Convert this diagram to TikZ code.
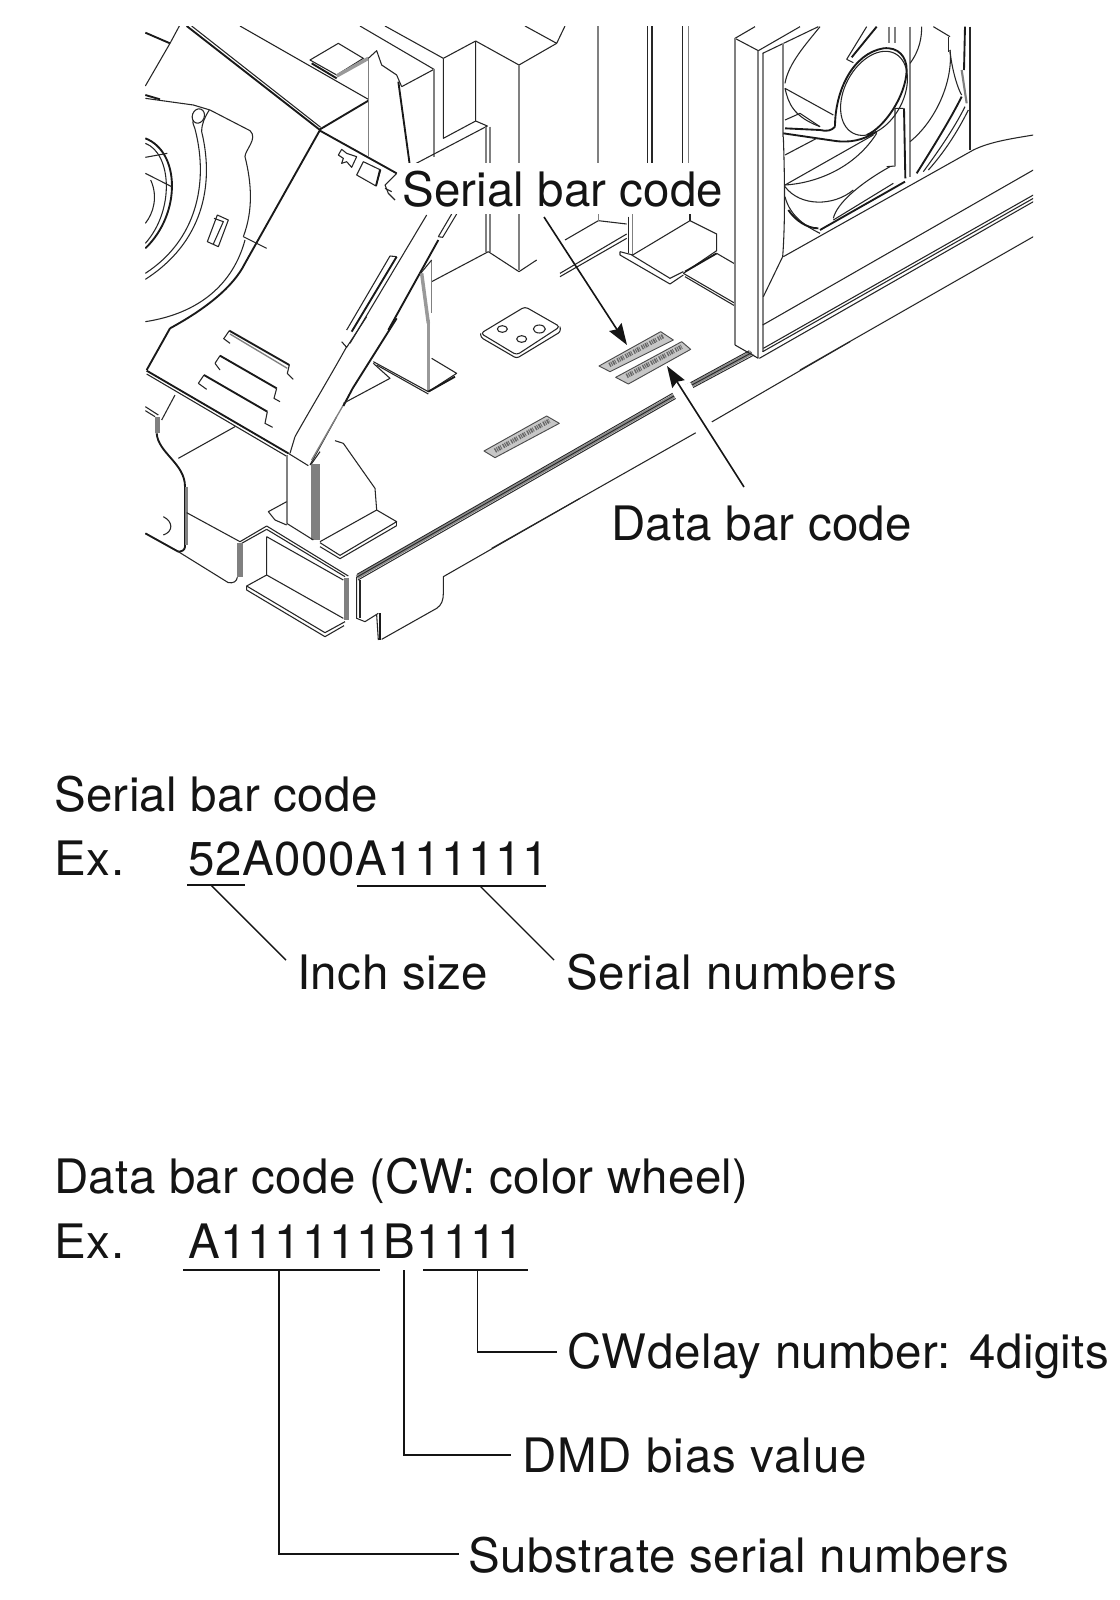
\documentclass[tikz,border=0pt]{standalone}
\usepackage{fontspec}
\setmainfont{TeX Gyre Heros}
\usetikzlibrary{arrows.meta}
\definecolor{ink}{gray}{0.08}
\definecolor{edge}{gray}{0.5}
\newcommand{\spaced}[1]{\addfontfeature{LetterSpace=#1}}
\tikzset{
 lbl/.style={anchor=base west,inner sep=0pt,text=ink,font=\fontsize{35.6}{40}\selectfont},
 ld/.style={draw=ink,line width=1.05pt},
 ul/.style={draw=ink,line width=1.4pt},
 arr/.style={draw=ink,line width=1.2pt,-{Stealth[length=16pt,width=11pt,inset=2pt]}},
 ln/.style={draw=black!85,line width=0.8pt,line join=round},
 tk/.style={draw=black!90,line width=1.4pt,line join=round},
 gy/.style={draw=edge,line width=1pt},
 wd/.style={draw=edge!80,line width=2.6pt},
 code/.style={draw=black!70,fill=black!22,line width=0.7pt,line join=round},
 bars/.style={draw=black!60,line width=3.4pt,dash pattern=on 1pt off .7pt on .7pt off .7pt on 1.2pt off .6pt on .6pt off 1.4pt},
 zs/.style={x=0.25pt,y=-0.25pt},
}
\begin{document}
\begin{tikzpicture}[x=0.75pt,y=-0.75pt]
\useasboundingbox (0,0) rectangle (1120,1600);
\fill[white] (0,0) rectangle (1120,1600);
\begin{scope}
\clip (145,26) rectangle (1033,640);
% --- zoom 1 region
\begin{scope}[shift={(130,10)},zs]
\draw[tk] (46,68)--(120,100);
\draw[ln] (148,48)--(120,100)--(46,228);
\draw[tk] (170,48)--(570,360);
\draw[ln] (185,48)--(572,352);
\draw[tk] (570,362)--(800,490);
\draw[ln] (330,48)--(715,268);
\draw[tk] (715,272)--(570,358);
\draw[tk] (570,360)--(345,760) .. controls (310,830) and (230,895) .. (120,955);
\draw[ln] (340,680)--(410,715);
\draw[ln] (540,150)--(625,100)--(700,145)--(620,195)--cycle;
\draw[tk] (545,160)--(620,205);
\draw[wd] (620,198)--(715,145);
\draw[gy] (715,145)--(715,440);
\draw[ln] (715,145)--(740,122)--(755,165)--(800,195)--(815,230);
\draw[tk] (805,215)--(840,470);
\draw[ln] (690,48)--(912,178)--(815,230);
\draw[ln] (765,48)--(940,145);
\draw[gy] (912,178)--(912,440);
\draw[ln] (1185,48)--(1280,100)--(1305,48);
\draw[ln] (940,145)--(1037,93)--(1167,165)--(1280,100);
\draw[ln] (940,145)--(940,385)--(1037,333)--(1037,93);
\draw[ln] (855,462)--(1072,348)--(1037,333);
\draw[gy] (1068,350)--(1068,725);
\draw[gy] (1080,350)--(1080,725);
\draw[gy] (1167,165)--(1167,780);
\draw[ln] (1075,725)--(1167,785)--(1220,750);
\draw[ln] (1075,725)--(905,815);
\draw[gy] (905,750)--(905,910);
% blower
\draw[tk] (46,255)--(90,268);
\draw[ln] (46,265)--(190,285)--(240,300)--(360,362) .. controls (385,385) and (345,420) .. (345,440) .. controls (365,520) and (370,600) .. (340,680);
\draw[ln,rotate around={-20:(205,318)}] (205,318) ellipse (18 and 22);
\draw[ln] (190,330) .. controls (185,340) and (195,350) .. (197,365) .. controls (235,520) and (200,690) .. (46,790);
\draw[ln] (238,300) .. controls (225,320) and (215,340) .. (215,365) .. controls (255,530) and (215,700) .. (46,808);
\draw[ln] (345,690) .. controls (310,820) and (210,910) .. (46,935);
\draw[tk] (46,385) .. controls (150,425) and (155,610) .. (46,715);
\draw[ln] (46,400) .. controls (125,430) and (135,600) .. (46,700);
\draw[ln] (46,442)--(112,430);
\draw[ln] (46,490)--(125,530);
\draw[ln] (62,510) .. controls (85,560) and (70,610) .. (46,640);
\draw[ln] (262,615)--(295,630)--(265,710)--(232,695)--cycle;
\draw[ln] (252,625)--(280,635)--(250,702);
% sticker-like details
\draw[ln] (635,418)--(625,435)--(640,445)--(635,460)--(650,455)--(665,472)--(680,440)--(650,430)--cycle;
\draw[ln] (700,455)--(752,480)--(738,528)--(680,495)--cycle;
\draw[tk] (750,480)--(738,528);
\draw[ln] (800,490)--(765,525)--(775,550)--(795,570);
\draw[ln] (765,535)--(785,545);
% below the label
\draw[ln] (890,615)--(660,1000);
\draw[ln] (965,612)--(925,680);
\draw[ln] (980,612)--(938,682)--(925,680);
\draw[ln] (800,740)--(780,738)--(650,960);
\draw[tk] (800,740)--(665,965);
\draw[tk] (925,690)--(775,960);
\draw[wd] (875,790)--(895,940);
\draw[ln] (905,750)--(872,790);
\end{scope}
% --- zoom 3 region
\begin{scope}[shift={(130,320)},zs]
\draw[tk] (120,25)--(50,150);
\draw[tk] (50,152)--(475,400);
\draw[ln] (50,162)--(472,410);
\draw[ln] (495,350)--(480,400);
\draw[ln] (495,350) .. controls (540,270) and (600,170) .. (650,80);
\draw[ln] (635,65)--(650,82)--(710,-10);
\draw[ln] (475,400)--(535,437);
\draw[ln] (540,435)--(620,290);
\draw[gy] (545,420)--(640,255);
\draw[tk] (640,258)--(668,205)--(800,-5);
\draw[ln] (640,250)--(780,175)--(730,130);
% slots
\draw[ln] (280,55)--(300,70); \draw[ln] (282,55)--(298,32);
\draw[tk] (298,32)--(478,135); \draw[gy] (300,42)--(472,145);
\draw[ln] (478,135)--(472,160)--(490,178);
\draw[ln] (255,130)--(270,150); \draw[ln] (255,130)--(270,107);
\draw[tk] (270,107)--(440,205);
\draw[ln] (440,205)--(432,235)--(450,245);
\draw[ln] (205,190)--(230,208); \draw[ln] (205,190)--(222,165);
\draw[tk] (222,165)--(412,275);
\draw[ln] (412,275)--(405,310)--(428,322);
% column
\draw[gy,line width=1.6pt] (470,405)--(470,610);
\fill[black!50] (544,432) rectangle (570,660);
\draw[ln] (470,610)--(550,660);
\draw[ln] (470,545)--(415,575)--(435,600)--(470,615);
\draw[ln] (570,395)--(544,432);
% right gusset
\draw[ln] (615,362)--(640,370)--(735,505)--(740,570)--(570,665);
\draw[ln] (740,570)--(800,605)--(630,706)--(570,668);
\draw[ln] (570,680)--(630,716)--(800,617);
\draw[ln] (800,605)--(800,617);
% left blocks
\draw[ln] (135,225)--(95,300);
\draw[ln] (46,260)--(85,285);
\draw[ln] (46,272)--(75,290);
\fill[black!50] (74,290) rectangle (90,340);
\draw[tk] (80,340) .. controls (85,400) and (165,430) .. (165,500)--(165,680) .. controls (165,690) and (155,695) .. (145,695);
\draw[gy,line width=2.6pt] (170,500)--(170,675);
\draw[ln] (145,415)--(315,320);
\draw[ln] (170,578)--(330,665)--(410,618);
\draw[ln] (335,670)--(410,628);
\fill[black!50] (322,670) rectangle (338,772);
\draw[ln] (322,772) .. controls (320,785) and (310,790) .. (295,788)--(145,695);
\draw[tk] (46,640)--(145,695);
\draw[ln] (100,590) .. controls (130,605) and (130,635) .. (100,645);
% front box
\draw[ln] (410,618)--(655,768);
\draw[ln] (410,628)--(645,770);
\draw[ln] (410,650)--(640,780);
\draw[ln] (410,650)--(410,765)--(640,895);
\fill[black!50] (642,775) rectangle (658,900);
\draw[ln] (410,765)--(350,798)--(585,938)--(645,905);
\draw[ln] (350,798)--(350,810)--(585,950)--(642,917);
% front right panel
\draw[ln] (690,780)--(690,895);
\draw[ln] (680,770)--(680,895)--(705,905)--(745,880);
\draw[tk] (750,880)--(750,960);
\draw[ln] (740,885)--(745,960);
\draw[ln] (755,958)--(920,865) .. controls (935,855) and (940,840) .. (940,820)--(940,770)--(1350,535);
% small column foot
\draw[wd] (895,0)--(895,215);
\draw[ln] (730,125)--(895,215)--(980,160)--(905,115);
\draw[tk] (895,215)--(975,170);
\draw[ln] (740,135)--(895,222);
\end{scope}
% --- zoom 4 region
\begin{scope}[shift={(450,290)},zs]
\draw[ln,rounded corners=2.5pt] (92,130)--(225,50)--(330,110)--(200,195)--cycle;
\draw[ln,rounded corners=2pt] (92,130)--(92,142)--(200,205)--(332,125)--(330,110);
\draw[ln] (157,117) ellipse (15 and 10);
\draw[ln] (215,147) ellipse (15 and 10);
\draw[ln] (268,117) ellipse (18 and 12);
\draw[code] (447,228)--(632,125)--(670,150)--(480,245)--cycle;
\draw[code] (497,262)--(695,155)--(722,178)--(535,282)--cycle;
\draw[code] (102,483)--(290,378)--(328,400)--(135,503)--cycle;
\draw[bars] (478,225)--(640,138);
\draw[bars] (530,258)--(695,170);
\draw[bars] (135,482)--(298,392);
% rail
\draw[draw=black!45,line width=3.2pt] (-279,861)--(684,311);
\draw[ln,line width=.7pt] (-279,853)--(678,304);
\draw[ln,line width=.7pt] (-279,861)--(684,311);
\draw[ln,line width=.7pt] (-276,870)--(690,318);
\draw[draw=black!45,line width=3.2pt] (707,295)--(905,188);
\draw[ln,line width=.7pt] (705,287)--(898,182);
\draw[ln,line width=.7pt] (707,295)--(905,188);
\draw[ln,line width=.7pt] (710,303)--(912,195);
\draw[ln] (752,420)--(125,775);
\draw[ln] (778,400)--(1200,155);
\end{scope}
% --- zoom 2 region
\begin{scope}[shift={(560,10)},zs]
\draw[gy,line width=1.6pt] (115,48)--(115,460);
\draw[ln] (262,48)--(262,460); \draw[ln] (276,48)--(276,460);
\draw[ln] (368,48)--(368,460); \draw[gy] (386,48)--(386,460);
\draw[ln] (15,690)--(115,632)--(200,642);
\draw[gy] (115,612)--(115,632);
\draw[ln] (0,790)--(200,672);
\draw[ln] (0,800)--(200,685);
\draw[ln] (205,620)--(205,730);
\draw[gy] (218,612)--(218,735);
\draw[ln] (180,725)--(218,735)--(390,632)--(470,672)--(470,722)--(370,790);
\draw[tk] (375,785)--(470,730);
\draw[ln] (390,632)--(390,612);
\draw[ln] (180,725)--(180,735)--(330,822)--(370,795);
\draw[ln] (215,735)--(330,805)--(370,785);
\draw[ln] (470,730)--(525,762);
\draw[ln] (370,790)--(525,880);
\draw[ln] (375,800)--(525,888);
% big column
\draw[ln] (525,85)--(595,122);
\draw[ln] (525,85)--(585,50);
\draw[gy,line width=1.6pt] (525,85)--(525,1005);
\draw[gy,line width=1.6pt] (595,122)--(595,1045);
\draw[gy,line width=1.6pt] (608,130)--(608,1025);
\draw[ln] (525,1005)--(595,1045);
\draw[ln] (595,122)--(720,50);
\draw[ln] (608,130)--(775,50);
\draw[gy,line width=1.6pt] (670,100)--(670,380);
\draw[ln] (670,380) .. controls (675,520) and (675,650) .. (668,740)--(610,860);
\draw[ln] (608,945)--(1420,480);
\draw[ln] (610,1015)--(1420,555);
\draw[ln] (598,1045)--(1420,575);
\draw[ln] (608,1025)--(1420,565);
\draw[ln] (720,1080)--(1420,680);
\draw[ln] (670,740)--(1240,420) .. controls (1290,395) and (1360,385) .. (1420,375);
\end{scope}
% --- zoom 7 region, fan
\begin{scope}[shift={(720,20)},zs]
\draw[ln,rotate around={-28:(462,220)}] (462,220) ellipse (88 and 135);
\draw[tk] (345,320) .. controls (345,210) and (400,100) .. (490,85) .. controls (535,80) and (560,110) .. (560,150);
\draw[tk] (560,150) .. controls (558,230) and (490,325) .. (440,345);
\draw[tk] (395,112) -- (470,20);
\draw[ln] (380,118)--(440,20); \draw[ln] (380,118)--(400,128);
\draw[tk] (345,320) .. controls (335,332) and (320,335) .. (300,330)--(195,325);
\draw[tk] (190,340)--(340,362) .. controls (390,370) and (430,360) .. (470,335);
\draw[ln] (195,205)--(340,285);
\draw[ln] (195,205) .. controls (205,250) and (220,290) .. (300,320);
\draw[ln] (195,300)--(240,280)--(300,320);
\draw[ln] (195,190) .. controls (205,130) and (260,70) .. (300,20);
\draw[ln] (195,405)--(290,355);
\draw[ln] (195,495)--(460,345);
\draw[ln] (195,495) .. controls (280,490) and (400,450) .. (470,340);
\draw[ln] (195,500) .. controls (240,560) and (340,560) .. (400,510);
\draw[ln] (340,595) .. controls (350,550) and (420,490) .. (510,440);
\draw[ln] (195,530) .. controls (210,590) and (260,620) .. (300,640);
\draw[tk] (205,570) .. controls (225,600) and (260,625) .. (295,625);
\draw[tk] (300,630)--(555,485);
\draw[ln] (340,600)--(520,490);
\draw[ln] (500,440)--(525,438)--(525,265)--(550,265);
\draw[tk] (552,265)--(556,475);
\draw[gy,line width=1.6pt] (525,290)--(525,438);
\draw[gy,line width=1.6pt] (570,20)--(570,470);
\draw[ln] (570,365) .. controls (650,300) and (700,180) .. (690,90);
\draw[ln] (570,130) .. controls (600,90) and (605,50) .. (605,20);
\draw[ln] (640,20)--(690,50);
\draw[ln] (690,90) .. controls (695,150) and (715,210) .. (725,225);
\draw[ln] (685,50)--(685,95);
\draw[tk] (735,20)--(732,150);
\draw[gy,line width=1.6pt] (725,150)--(740,250);
\draw[ln] (750,20)--(750,390);
\draw[tk] (725,230) .. controls (690,300) and (640,380) .. (590,460);
\draw[ln] (735,260) .. controls (700,330) and (650,400) .. (610,455);
\draw[ln] (745,270) .. controls (710,340) and (670,400) .. (625,450);
\draw[gy,line width=1.6pt] (525,20)--(525,70);
\draw[gy,line width=1.6pt] (508,20)--(508,70);
\end{scope}
\end{scope}
% white masks behind the top labels
\fill[white] (400,163) rectangle (726,214);
\fill[white] (672,392) -- (690,382) -- (716,430) -- (700,440) -- cycle;
% --- labels
\node[lbl] (serialtop) at (402,206) {\spaced{.3}Serial bar code};
\node[lbl] (datatop) at (611,540) {\spaced{.5}Data bar code};
\coordinate (serialfrom) at (544,217);
\coordinate (serialto) at (627,345);
\coordinate (datafrom) at (744,487);
\coordinate (datato) at (667,366);
\draw[arr] (serialfrom) -- (serialto);
\draw[arr] (datafrom) -- (datato);
% serial section
\node[lbl] (serialhead) at (54,811) {\spaced{.7}Serial bar code};
\node[lbl] (serialex) at (54,875) {\spaced{1.5}Ex.};
\node[lbl] (serialcode) at (188,875) {\spaced{1.3}52A000A111111};
\node[lbl] (inch) at (297,989) {\spaced{1}Inch size};
\node[lbl] (serialnum) at (566,989) {\spaced{2}Serial numbers};
\coordinate (u1a) at (187,885); \coordinate (u1b) at (245,885);
\coordinate (u2a) at (357,886); \coordinate (u2b) at (546,886);
\coordinate (u1m) at (211,885); \coordinate (u2m) at (480,886);
\coordinate (inchend) at (286,960); \coordinate (numend) at (554,960);
\draw[ul] (u1a) -- (u1b);
\draw[ul] (u2a) -- (u2b);
\draw[ld] (u1m) -- (inchend);
\draw[ld] (u2m) -- (numend);
% data section
\node[lbl] (datahead) at (54,1193) {\spaced{.7}Data bar code (CW: color wheel)};
\node[lbl] (dataex) at (54,1258) {\spaced{1.5}Ex.};
\node[lbl] (datacode) at (188,1258) {\spaced{1.6}A111111B1111};
\node[lbl] (cwdelay) at (567,1368) {\spaced{1}CWdelay number: 4digits};
\node[lbl] (dmd) at (522,1472) {\spaced{2}DMD bias value};
\node[lbl] (subst) at (468,1572) {\spaced{1.4}Substrate serial numbers};
\coordinate (u3a) at (183,1270); \coordinate (u3b) at (380,1270);
\coordinate (u4a) at (423,1270); \coordinate (u4b) at (528,1270);
\coordinate (t1) at (279,1270); \coordinate (t2) at (404,1270); \coordinate (t3) at (477.5,1270);
\coordinate (e1) at (459,1554); \coordinate (e2) at (511,1455); \coordinate (e3) at (557,1352);
\draw[ul] (u3a) -- (u3b);
\draw[ul] (u4a) -- (u4b);
\draw[ld] (t3) |- (e3);
\draw[ld] (t2) |- (e2);
\draw[ld] (t1) |- (e1);
\end{tikzpicture}
\end{document}
